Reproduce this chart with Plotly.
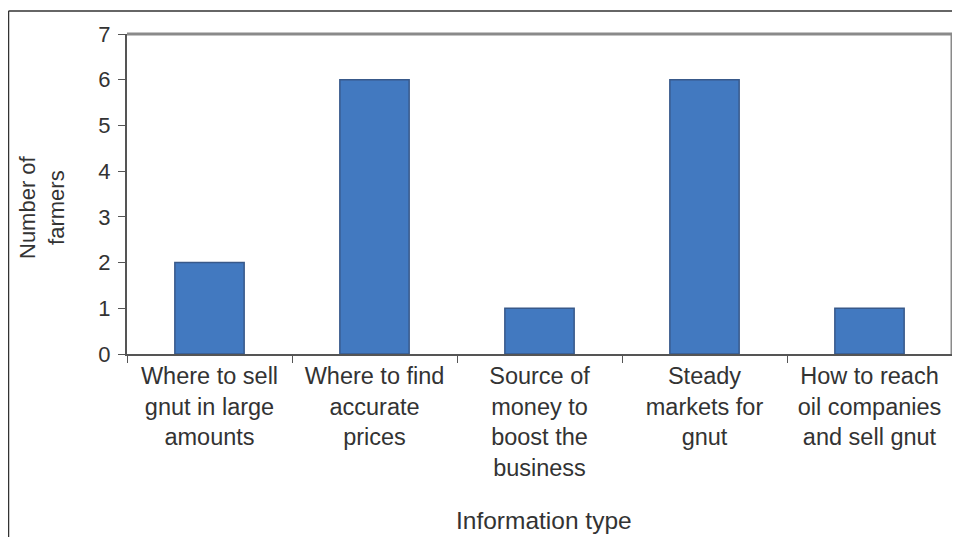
import plotly.graph_objects as go

categories = [
    "Where to sell<br>gnut in large<br>amounts",
    "Where to find<br>accurate<br>prices",
    "Source of<br>money to<br>boost the<br>business",
    "Steady<br>markets for<br>gnut",
    "How to reach<br>oil companies<br>and sell gnut",
]
farmers = [2, 6, 1, 6, 1]
y_ticks = [0, 1, 2, 3, 4, 5, 6, 7]

W, H = 960, 537
OFF = 8  # page body offset
# target plot area in screen pixels: x 127..952, y 34..354
ml, mt = 127 - OFF, 34 - OFF
mr = W - (952 - OFF)
mb = H - (354 - OFF)
pw, ph = W - ml - mr, H - mt - mb


def px(xs):
    return (xs - OFF - ml) / pw


def py(ys):
    return 1 - (ys - OFF - mt) / ph


fig = go.Figure(go.Bar(
    x=categories, y=farmers,
    width=0.42,
    marker=dict(color="#4279c0", line=dict(color="#38598a", width=1.5)),
))

font = dict(family="Liberation Sans, Arial, sans-serif", color="#333333")

fig.update_layout(
    width=W, height=H,
    margin=dict(l=ml, r=mr, t=mt, b=mb, autoexpand=False),
    paper_bgcolor="white", plot_bgcolor="white",
    showlegend=False,
    font=dict(size=23, **font),
    xaxis=dict(
        type="category", tickson="boundaries", ticks="outside", ticklen=7,
        tickcolor="#555555", showline=True, linecolor="#555555", linewidth=2,
        showgrid=False, tickfont=dict(size=23.5, **font),
    ),
    yaxis=dict(
        range=[0, 7], tickvals=y_ticks, ticks="outside", ticklen=7,
        tickcolor="#555555", showline=True, linecolor="#555555", linewidth=2,
        showgrid=False, zeroline=False, tickfont=dict(size=22, **font),
        ticklabelstandoff=3,
    ),
    shapes=[
        dict(type="line", xref="paper", yref="paper", x0=0, x1=1, y0=1, y1=1,
             line=dict(color="#8a8a8a", width=3)),
        dict(type="line", xref="paper", yref="paper", x0=1, x1=1, y0=0, y1=1,
             line=dict(color="#8a8a8a", width=3)),
        dict(type="line", xref="paper", yref="paper",
             x0=px(8.5), x1=px(8.5), y0=py(11), y1=py(560),
             line=dict(color="#333333", width=1.5)),
        dict(type="line", xref="paper", yref="paper",
             x0=px(8.5), x1=px(990), y0=py(11), y1=py(11),
             line=dict(color="#333333", width=1.5)),
    ],
    annotations=[
        dict(text="Number of<br>farmers", textangle=-90, xref="paper", yref="paper",
             x=px(42), y=py(207), xanchor="center", yanchor="middle", showarrow=False,
             font=dict(size=22, **font)),
        dict(text="Information type", xref="paper", yref="paper",
             x=px(544), y=py(520), xanchor="center", yanchor="middle", showarrow=False,
             font=dict(size=24.5, **font)),
    ],
)

fig.write_html("out.html")
